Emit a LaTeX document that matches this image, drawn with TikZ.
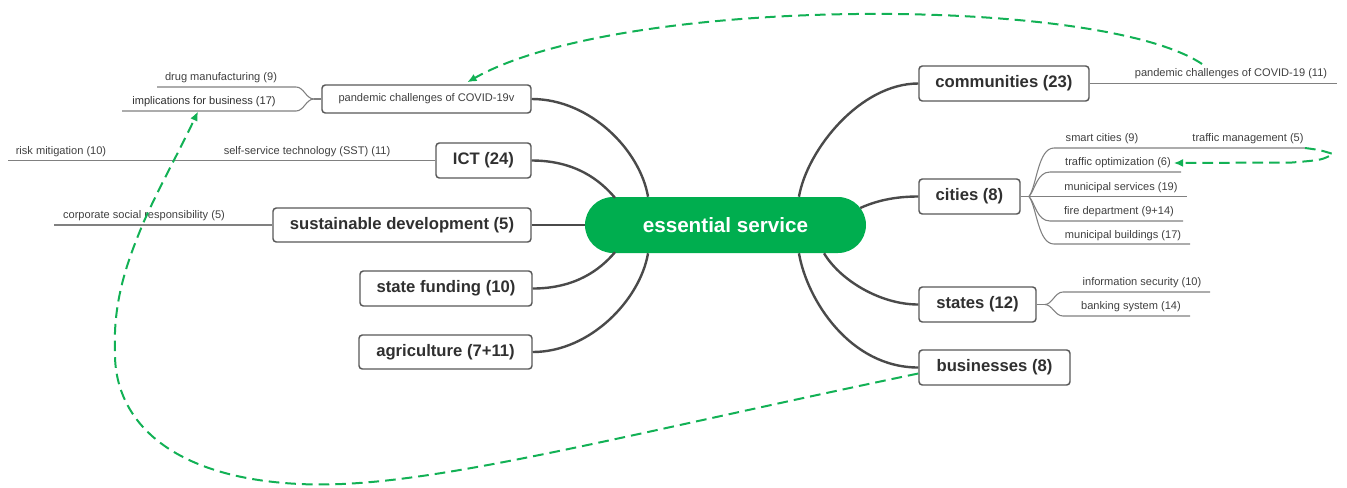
\documentclass[tikz,border=0pt]{standalone}
\usepackage{fontspec}
\setmainfont{Liberation Sans}
\usetikzlibrary{arrows.meta}
\definecolor{pillgreen}{HTML}{00AE4F}
\definecolor{dashgreen}{HTML}{12B155}
\definecolor{boxline}{HTML}{585858}
\definecolor{boxtext}{HTML}{303030}
\definecolor{connc}{HTML}{4A4A4A}
\definecolor{sublinec}{HTML}{808080}
\definecolor{subtext}{HTML}{404040}
\tikzset{
 mainbox/.style 2 args={draw=boxline, line width=1.1pt, rounded corners=2.5pt, fill=white,
   text=boxtext, font=\fontsize{12.5}{15}\selectfont\bfseries,
   minimum width=#1*0.75pt, minimum height=#2*0.75pt, inner sep=0pt},
 smallbox/.style 2 args={mainbox={#1}{#2}, font=\fontsize{8.3}{10}\selectfont, text=subtext},
 sub/.style={text=subtext, font=\fontsize{8.3}{10}\selectfont, inner sep=0pt},
 connector/.style={draw=connc, line width=1.8pt},
 subln/.style={draw=sublinec, line width=0.8pt},
 link/.style={draw=dashgreen, line width=1.5pt, dash pattern=on 8pt off 4.5pt,
   -{Latex[length=7pt,width=6pt]}},
}
\begin{document}
\begin{tikzpicture}[x=0.75pt,y=-0.75pt]
\useasboundingbox (0,0) rectangle (1347,487);

% central node
\node[fill=pillgreen, rounded corners=21pt, minimum width=281*0.75pt, minimum height=56*0.75pt,
  inner sep=0pt, text=white, font=\fontsize{15.5}{18}\selectfont\bfseries] (es) at (725.5,225) {essential service};

% main topics left
\node[smallbox={209}{28}] (pcv) at (426.5,99) {pandemic challenges of COVID-19v};
\node[mainbox={95}{35}] (ict) at (483.5,160.5) {ICT (24)};
\node[mainbox={258}{34}] (sd) at (402,225) {sustainable development (5)};
\node[mainbox={172}{35}] (sf) at (446,288.5) {state funding (10)};
\node[mainbox={173}{34}] (ag) at (445.5,352) {agriculture (7+11)};

% main topics right
\node[mainbox={170}{35}] (com) at (1004,83.5) {communities (23)};
\node[mainbox={101}{35}] (cit) at (969.5,196.5) {cities (8)};
\node[mainbox={117}{35}] (sta) at (977.5,304.5) {states (12)};
\node[mainbox={151}{35}] (bus) at (994.5,367.5) {businesses (8)};

% connectors to the centre
\draw[connector] (pcv.east) .. controls (590,99) and (640,150) .. ([xshift=-58.1pt]es.north);
\draw[connector] (ict.east) .. controls (575,160.5) and (600,180) .. ([xshift=-82.9pt,yshift=-0.8pt]es.north);
\draw[connector] (sd.east) -- (es.west);
\draw[connector] (sf.east) .. controls (575,288.5) and (600,270) .. ([xshift=-82.9pt,yshift=0.8pt]es.south);
\draw[connector] (ag.east) .. controls (590,352) and (640,300) .. ([xshift=-58.1pt]es.south);
\draw[connector] ([xshift=55.1pt]es.north) .. controls (807,150) and (860,83.5) .. (com.west);
\draw[connector] ([xshift=-4.5pt,yshift=12.75pt]es.east) .. controls (880,199) and (900,196.5) .. (cit.west);
\draw[connector] ([xshift=73.9pt]es.south) .. controls (840,280) and (880,304.5) .. (sta.west);
\draw[connector] ([xshift=55.1pt]es.south) .. controls (807,300) and (850,367.5) .. (bus.west);

% sub-topic labels
\node[sub] (dm) at (221,78) {drug manufacturing (9)};
\node[sub, text=boxtext] (ib) at (204,102) {implications for business (17)};
\node[sub] (sst) at (307,152) {self-service technology (SST) (11)};
\node[sub] (rm) at (61,152) {risk mitigation (10)};
\node[sub] (csr) at (144,216) {corporate social responsibility (5)};
\node[sub] (pc) at (1231,74) {pandemic challenges of COVID-19 (11)};
\node[sub] (sc) at (1102,139) {smart cities (9)};
\node[sub] (tm) at (1248,139) {traffic management (5)};
\node[sub] (to) at (1118,163) {traffic optimization (6)};
\node[sub] (ms) at (1121,188) {municipal services (19)};
\node[sub] (fd) at (1119,212) {fire department (9+14)};
\node[sub] (mb) at (1123,236) {municipal buildings (17)};
\node[sub] (is) at (1142,283) {information security (10)};
\node[sub] (bs) at (1131,307) {banking system (14)};

% sub-topic lines
\coordinate (pf) at (314,99);
\draw[subln] (pcv.west) -- (pf);
\draw[subln] (pf) .. controls (306,99) and (304,87) .. (296,87) -- (157,87);
\draw[subln] (pf) .. controls (306,99) and (304,111) .. (296,111) -- (122,111);
\draw[subln] (ict.west) -- (8,160.5);
\draw[subln] (sd.west) -- (54,225);
\draw[subln] (com.east) -- (1337,83.5);

\coordinate (cf) at (1029,196.5);
\draw[subln] (cit.east) -- (cf);
\draw[subln] (cf) .. controls (1037,185) and (1038,148) .. (1054,148) -- (1305,148);
\draw[subln] (cf) .. controls (1035,190) and (1037,172) .. (1050,172) -- (1181,172);
\draw[subln] (cf) -- (1187,196.5);
\draw[subln] (cf) .. controls (1035,203) and (1037,221) .. (1050,221) -- (1183,221);
\draw[subln] (cf) .. controls (1037,208) and (1038,244) .. (1054,244) -- (1190,244);

\coordinate (sfk) at (1045,304.5);
\draw[subln] (sta.east) -- (sfk);
\draw[subln] (sfk) .. controls (1052,304.5) and (1055,292) .. (1063,292) -- (1210,292);
\draw[subln] (sfk) .. controls (1052,304.5) and (1055,316) .. (1063,316) -- (1190,316);

% green dashed links
\coordinate (s1) at (1202,64);
\draw[link] (s1) .. controls (1100,-5) and (620,-5) .. ([xshift=109.5pt,yshift=1.5pt]pcv.north west);
\coordinate (s2) at (1305,148);
\draw[link] (s2) .. controls (1320,150) .. (1333,154) .. controls (1322,160) .. (1292,162.5) -- ([xshift=2pt]to.east);
\draw[link] ([yshift=-4.5pt]bus.west) .. controls (600,440) and (420,490) .. (300,484)
   .. controls (170,478) and (113,420) .. (115,350)
   .. controls (113,300) and (128,260) .. (142,226)
   .. controls (155,195) and (180,150) .. ([xshift=-4.5pt,yshift=-3pt]ib.south);
\end{tikzpicture}
\end{document}
